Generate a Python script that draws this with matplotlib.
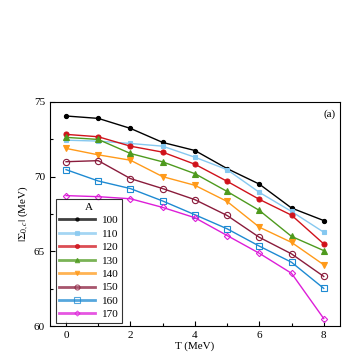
import matplotlib
matplotlib.use('Agg')
import matplotlib.pyplot as plt
from matplotlib.ticker import MultipleLocator

plt.rcParams['font.family'] = ['Liberation Serif', 'DejaVu Serif']
plt.rcParams['mathtext.fontset'] = 'stix'

# temperature grid (MeV)
T = [0, 1, 2, 3, 4, 5, 6, 7, 8]

# |Sigma_{0,c}| in MeV for each mass number A
A100 = [74.06, 73.90, 73.23, 72.29, 71.75, 70.54, 69.50, 67.90, 67.06]
A110 = [72.44, 72.38, 72.22, 72.04, 71.30, 70.47, 68.95, 67.67, 66.28]
A120 = [72.83, 72.67, 72.04, 71.64, 70.83, 69.69, 68.48, 67.42, 65.50]
A130 = [72.63, 72.49, 71.55, 70.99, 70.20, 69.01, 67.74, 66.00, 65.05]
A140 = [71.89, 71.46, 71.10, 70.00, 69.42, 68.34, 66.62, 65.60, 64.10]
A150 = [71.00, 71.07, 69.87, 69.20, 68.46, 67.40, 65.94, 64.83, 63.32]
A160 = [70.47, 69.71, 69.20, 68.37, 67.45, 66.51, 65.35, 64.27, 62.52]
A170 = [68.73, 68.66, 68.52, 67.94, 67.25, 66.06, 64.87, 63.53, 60.50]

labels = ['100', '110', '120', '130', '140', '150', '160', '170']
series = [A100, A110, A120, A130, A140, A150, A160, A170]

# colour, marker, size, filled
styles = [
    ('#000000', 'o', 3.0, True),
    ('#86c8f0', 's', 3.2, True),
    ('#d0121b', 'o', 3.6, True),
    ('#4e9a1e', '^', 4.0, True),
    ('#ff9a1a', 'v', 4.0, True),
    ('#8a1c3c', 'o', 4.5, False),
    ('#1e8ad2', 's', 5.0, False),
    ('#dd1ed8', 'D', 3.2, False),
]

fig = plt.figure(figsize=(3.54, 3.54), dpi=100)
ax = fig.add_axes([0.141, 0.079, 0.819, 0.633])

for vals, lab, (c, m, ms, filled) in zip(series, labels, styles):
    ax.plot(T, vals, color=c, marker=m, markersize=ms, linewidth=1.0,
            markerfacecolor=c if filled else 'none', markeredgecolor=c,
            markeredgewidth=0.8, label=lab)

ax.set_xlim(-0.5, 8.5)
ax.set_ylim(60, 75)
ax.xaxis.set_major_locator(MultipleLocator(2))
ax.xaxis.set_minor_locator(MultipleLocator(1))
ax.yaxis.set_major_locator(MultipleLocator(5))
ax.yaxis.set_minor_locator(MultipleLocator(2.5))
ax.tick_params(which='both', direction='in', top=False, right=False,
               labelsize=8, width=0.8)
ax.tick_params(which='major', length=3.5)
ax.tick_params(which='minor', length=2)
for s in ax.spines.values():
    s.set_linewidth(0.8)

ax.set_xlabel('T (MeV)', fontsize=8, labelpad=1)
ax.set_ylabel(r'$|\Sigma_{0,c}|$ (MeV)', fontsize=8, labelpad=2)
ax.text(0.985, 0.965, '(a)', transform=ax.transAxes, ha='right', va='top',
        fontsize=8)

leg = ax.legend(title='A', loc='lower left', bbox_to_anchor=(0.01, 0.0),
                fontsize=8, title_fontsize=8, frameon=True, fancybox=False,
                handlelength=3.2, handletextpad=0.6, labelspacing=0.33,
                borderpad=0.3, borderaxespad=0.3, markerscale=0.8)
leg.get_frame().set_edgecolor('black')
leg.get_frame().set_linewidth(0.8)
for h in leg.legend_handles:
    h.set_linewidth(2.0)
    h.set_alpha(0.75)

fig.savefig('out.png', dpi=100)
